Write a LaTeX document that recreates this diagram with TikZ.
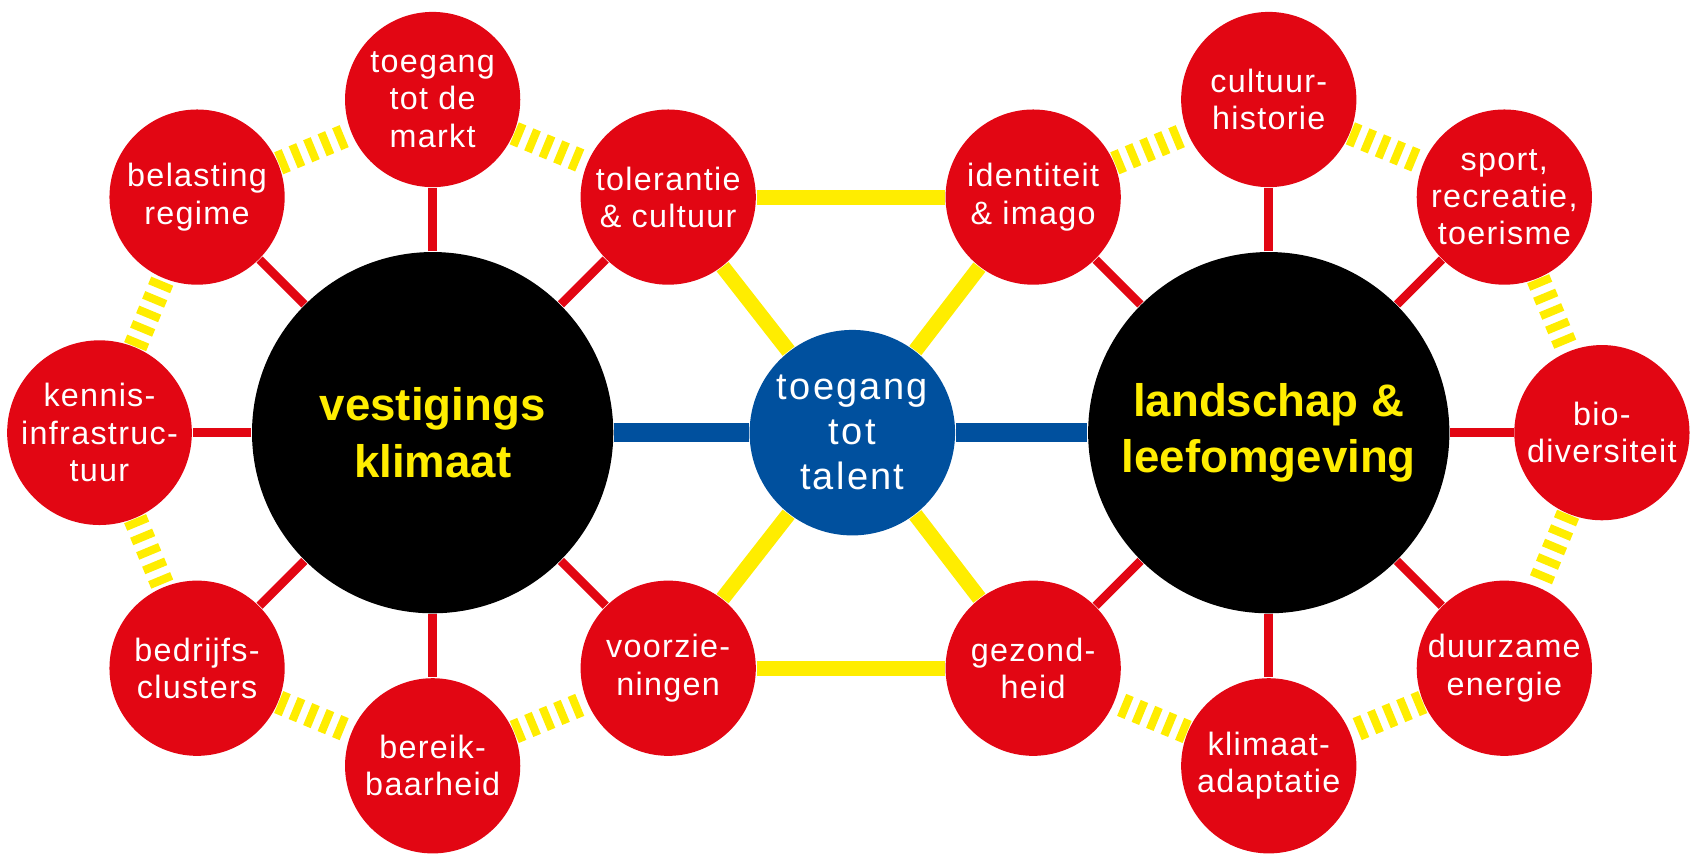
\documentclass[tikz,border=0pt]{standalone}
\usepackage{fontspec}
\setmainfont{Liberation Sans}
\usepackage{tikz}
\usetikzlibrary{calc, arrows}
\definecolor{rood}{RGB}{226,6,19}
\definecolor{geel}{RGB}{255,237,0}
\definecolor{blauw}{RGB}{0,80,158}
\tikzstyle{sat}=[circle, fill=rood, text=white, minimum size=1.62cm, inner sep=0pt, align=center, font=\fontsize{8.5}{9.8}\selectfont\addfontfeature{LetterSpace=4}]
\tikzstyle{kern}=[circle, fill=black, text=geel, minimum size=3.34cm, inner sep=0pt, align=center, font=\fontsize{12}{14.8}\selectfont\bfseries]
\tikzstyle{hub}=[circle, fill=blauw, text=white, minimum size=1.9cm, inner sep=0pt, align=center, font=\fontsize{10}{11.8}\selectfont\addfontfeature{LetterSpace=6}]
\tikzstyle{spaak}=[color=rood, line width=0.08cm]
\tikzstyle{brug}=[color=geel, line width=0.14cm]
\tikzstyle{as}=[color=blauw, line width=0.18cm]
\tikzstyle{streep}=[color=geel, line width=0.22cm, dash pattern=on 0.075cm off 0.07cm]

\begin{document}
\begin{tikzpicture}[node distance=3.08cm,auto]
      \useasboundingbox (-7.88,-3.90) rectangle (7.80,4.00);

      \node [hub] (talent) {toegang\\tot\\talent};
      \node [kern] (vk) [left of=talent, node distance=3.88cm] {vestigings\\klimaat};
      \node [kern] (lo) [right of=talent, node distance=3.85cm] {landschap \&\\leefomgeving};

      % vestigingsklimaat
      \node [sat] (markt) [above of=vk] {toegang\\tot de\\markt};
      \node [sat] (belasting) at ([shift={(135:3.08)}]vk) {belasting\\regime};
      \node [sat] (kennis) [left of=vk] {kennis-\\infrastruc-\\tuur};
      \node [sat] (clusters) at ([shift={(225:3.08)}]vk) {bedrijfs-\\clusters};
      \node [sat] (bereik) [below of=vk] {bereik-\\baarheid};
      \node [sat] (voorz) at ([shift={(315:3.08)}]vk) {voorzie-\\ningen};
      \node [sat] (tolerantie) at ([shift={(45:3.08)}]vk) {tolerantie\\\& cultuur};

      % landschap & leefomgeving
      \node [sat] (identiteit) at ([shift={(135:3.08)}]lo) {identiteit\\\& imago};
      \node [sat] (historie) [above of=lo] {cultuur-\\historie};
      \node [sat] (sport) at ([shift={(45:3.08)}]lo) {sport,\\recreatie,\\toerisme};
      \node [sat] (bio) [right of=lo] {bio-\\diversiteit};
      \node [sat] (energie) at ([shift={(315:3.08)}]lo) {duurzame\\energie};
      \node [sat] (adaptatie) [below of=lo] {klimaat-\\adaptatie};
      \node [sat] (gezond) at ([shift={(225:3.08)}]lo) {gezond-\\heid};

      \path[as] (vk) edge (talent);
      \path[as] (talent) edge (lo);

      \path[spaak] (vk) edge (markt);
      \path[spaak] (vk) edge (belasting);
      \path[spaak] (vk) edge (kennis);
      \path[spaak] (vk) edge (clusters);
      \path[spaak] (vk) edge (bereik);
      \path[spaak] (vk) edge (voorz);
      \path[spaak] (vk) edge (tolerantie);

      \path[spaak] (lo) edge (identiteit);
      \path[spaak] (lo) edge (historie);
      \path[spaak] (lo) edge (sport);
      \path[spaak] (lo) edge (bio);
      \path[spaak] (lo) edge (energie);
      \path[spaak] (lo) edge (adaptatie);
      \path[spaak] (lo) edge (gezond);

      \path[brug] (tolerantie) edge (identiteit);
      \path[brug] (voorz) edge (gezond);
      \path[brug] (talent) edge (tolerantie);
      \path[brug] (talent) edge (identiteit);
      \path[brug] (talent) edge (voorz);
      \path[brug] (talent) edge (gezond);

      \path[streep] (belasting) edge (markt);
      \path[streep] (markt) edge (tolerantie);
      \path[streep] (kennis) edge (belasting);
      \path[streep] (kennis) edge (clusters);
      \path[streep] (clusters) edge (bereik);
      \path[streep] (bereik) edge (voorz);

      \path[streep] (identiteit) edge (historie);
      \path[streep] (historie) edge (sport);
      \path[streep] (sport) edge (bio);
      \path[streep] (bio) edge (energie);
      \path[streep] (energie) edge (adaptatie);
      \path[streep] (adaptatie) edge (gezond);
  \end{tikzpicture}
\end{document}
